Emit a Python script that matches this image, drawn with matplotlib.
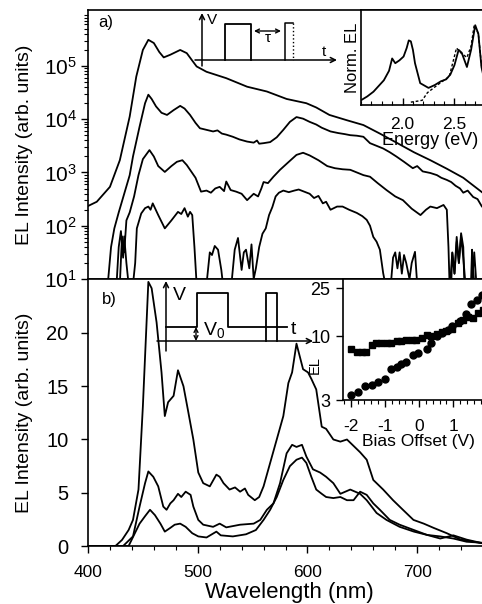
import matplotlib
matplotlib.use('Agg')
import matplotlib.pyplot as plt
import numpy as np
from matplotlib.ticker import MultipleLocator, LogLocator, NullFormatter, NullLocator

plt.rcParams['font.family'] = ['Liberation Sans', 'DejaVu Sans']
plt.rcParams['mathtext.fontset'] = 'custom'
plt.rcParams['mathtext.rm'] = 'Liberation Sans'
plt.rcParams['mathtext.it'] = 'Liberation Sans:italic'
plt.rcParams['mathtext.default'] = 'regular'
plt.rcParams['axes.unicode_minus'] = False

# ---- panel a) : log EL spectra (values stored as log10 of intensity)
wl_a1 = [399, 408, 420, 429, 438, 444, 450, 455, 460, 465, 469, 475, 484, 490, 495, 499, 508,
         526, 545, 563, 581, 599, 608, 620, 636, 651, 666, 682, 697, 712, 727, 742, 759, 770]
log_a1 = [2.36, 2.45, 2.73, 3.23, 4.05, 4.80, 5.30, 5.49, 5.43, 5.26, 5.16, 5.21, 5.30, 5.24, 5.10, 4.99, 4.89,
          4.77, 4.61, 4.52, 4.38, 4.30, 4.22, 4.08, 3.98, 3.89, 3.73, 3.55, 3.38, 3.23, 3.07, 2.90, 2.63, 2.45]

wl_a2 = [418, 421, 424, 428, 433, 438, 441, 447, 452, 455, 458, 462, 467, 472, 478, 484, 488, 493, 498,
         502, 508, 514, 518, 522, 526, 532, 538, 545, 551, 554, 556, 560, 566, 572, 578, 584, 590, 596, 602,
         608, 613, 621, 628, 634, 639, 645, 651, 657, 663, 669, 675, 681, 688, 696, 700, 705, 712, 718,
         722, 727, 731, 735, 739, 742, 746, 751, 755, 759, 770]
log_a2 = [0.9, 1.6, 1.95, 2.25, 2.6, 2.95, 3.30, 3.86, 4.30, 4.46, 4.38, 4.24, 4.12, 4.08, 4.17, 4.25, 4.20, 4.08, 3.93,
          3.83, 3.80, 3.77, 3.79, 3.73, 3.71, 3.67, 3.62, 3.58, 3.56, 3.60, 3.54, 3.55, 3.57, 3.66, 3.80, 3.95, 4.04, 4.01, 3.95,
          3.90, 3.84, 3.77, 3.74, 3.72, 3.70, 3.69, 3.67, 3.55, 3.50, 3.45, 3.38, 3.30, 3.20, 3.08, 3.12, 3.02, 2.99, 2.95,
          2.90, 2.86, 2.82, 2.75, 2.70, 2.62, 2.66, 2.54, 2.50, 2.36, 2.20]

wl_a3 = [429, 431, 433, 435, 438, 442, 446, 450, 456, 460, 464, 470, 476, 481, 486, 490, 494, 498, 503,
         508, 512, 516, 520, 524, 526, 530, 535, 540, 545, 551, 555, 558, 560, 564, 569, 575, 583, 590, 596,
         602, 610, 618, 625, 632, 639, 645, 651, 657, 664, 672, 680, 687, 695, 703, 708, 712, 718, 724, 727,
         728.5, 729.5, 731, 732, 734, 736, 738, 740, 742, 743, 749, 750, 751, 752, 770]
log_a3 = [0.9, 1.8, 1.5, 2.1, 2.25, 2.55, 2.95, 3.25, 3.42, 3.30, 3.12, 3.01, 3.12, 3.20, 3.23, 3.14, 3.02, 2.90, 2.64,
          2.66, 2.62, 2.70, 2.73, 2.65, 2.83, 2.67, 2.64, 2.60, 2.48, 2.60, 2.55, 2.70, 2.82, 2.80, 2.92, 3.05, 3.20, 3.33, 3.37,
          3.32, 3.23, 3.12, 3.08, 3.06, 3.05, 3.00, 2.95, 2.92, 2.80, 2.67, 2.55, 2.48, 2.32, 2.20, 2.30, 2.36, 2.33, 2.39, 2.30,
          1.6, 0.9, 0.9, 1.49, 1.1, 1.79, 1.3, 1.86, 1.6, 0.9, 0.9, 1.55, 1.2, 0.9, 0.9]

wl_a4 = [426, 428, 430, 432, 433, 435, 437, 441, 443, 444.5, 448.5, 452, 455, 457, 459, 464, 470, 476, 482, 485,
         488, 491, 493, 495, 497, 499, 508, 511, 513, 515.5, 518.5, 521.5, 523, 530.7, 533.7, 536.7, 540, 542,
         544, 547, 549, 551, 553, 556, 559, 562, 565, 568, 571, 574, 578, 583, 588, 592, 597, 602, 606, 610,
         614, 617, 621, 627, 632, 638, 645, 650, 654, 657, 660, 663, 666, 669, 671, 676, 678, 680, 682, 684,
         686, 688, 690, 693, 695, 698, 700, 730, 732, 734, 736, 738, 740, 742, 744, 750, 752, 754, 770]
log_a4 = [0.9, 1.6, 1.9, 1.4, 1.8, 1.3, 0.9, 0.9, 1.3, 1.95, 2.23, 2.33, 2.36, 2.30, 2.42, 2.20, 1.95, 2.10, 2.26, 2.22,
          2.33, 2.17, 2.26, 2.20, 1.6, 0.9, 0.9, 1.5, 1.45, 1.62, 1.55, 1.17, 0.9, 0.9, 1.55, 1.77, 1.17, 1.5,
          1.55, 1.2, 1.65, 1.0, 1.2, 1.6, 1.85, 1.95, 2.2, 2.35, 2.55, 2.62, 2.66, 2.63, 2.66, 2.68, 2.64, 2.60, 2.52, 2.56,
          2.42, 2.45, 2.30, 2.36, 2.36, 2.30, 2.24, 2.18, 2.11, 2.0, 1.79, 1.7, 1.55, 1.11, 0.9, 0.9, 1.4, 1.5, 1.2, 1.5,
          1.1, 1.45, 1.3, 1.0, 1.3, 1.51, 0.9, 0.9, 1.5, 1.1, 1.7, 1.3, 1.8, 1.4, 0.9, 0.9, 1.5, 0.9, 0.9]

# ---- panel b) : linear EL spectra
wl_b1 = [400, 425, 431, 437, 441, 446, 450, 455, 458, 462.5, 467, 470, 473, 478, 482, 487, 491, 496, 500.5,
         505, 511, 517, 520, 523.5, 529, 534, 538.6, 543, 546, 552, 556, 560, 566, 572, 578, 582.6, 586, 590,
         593, 596, 600.5, 603.5, 608, 613, 617, 623.6, 630, 636, 642, 648, 654, 660, 669, 678, 687, 696.6,
         706, 715, 727, 739, 751, 760]
b1 = [0, 0, 0.57, 1.5, 2.45, 5.3, 13.1, 24.8, 24.2, 21.0, 16.3, 12.2, 13.5, 14.1, 16.5, 15.0, 12.8, 10.0, 6.9,
      5.9, 5.6, 6.7, 6.5, 5.9, 5.3, 5.5, 5.1, 5.4, 4.8, 4.3, 4.6, 5.6, 7.8, 10.0, 12.2, 15.3, 16.3, 19.0,
      17.8, 16.6, 16.3, 15.7, 14.7, 11.2, 11.0, 10.0, 9.8, 10.0, 9.4, 8.8, 8.1, 6.2, 5.3, 4.3, 3.4, 2.45,
      2.1, 1.7, 1.2, 0.63, 0.4, 0.25]

wl_b2 = [400, 432, 441, 447, 452, 455, 459.5, 464, 468.6, 471.6, 475, 478, 482, 485, 489, 493.5, 496, 500.5,
         505, 514, 520, 526, 538.6, 551, 557, 563, 569, 575, 581, 586, 590, 595, 599, 605, 611.5, 617, 623.6,
         630, 639, 648, 654, 663, 672, 684, 697, 709, 721, 733, 745, 760]
b2 = [0, 0, 0.9, 3.7, 5.9, 7.0, 6.5, 5.6, 3.7, 3.4, 4.0, 4.3, 4.9, 4.6, 5.1, 4.8, 3.7, 2.45,
      2.0, 1.8, 2.1, 1.75, 2.0, 2.1, 2.45, 3.4, 4.0, 5.9, 8.7, 9.5, 9.3, 9.5, 8.4, 7.2, 6.9, 6.5, 5.9,
      4.9, 5.3, 4.9, 4.3, 3.1, 2.45, 1.8, 1.35, 1.04, 0.9, 0.7, 0.4, 0.3]

wl_b3 = [400, 437, 447, 452, 456.5, 461, 466, 470, 475, 479, 484, 489, 495, 500.5, 508, 517, 521, 532, 544,
         553, 560, 566, 572, 578, 584, 590, 595, 599, 603.5, 608, 613, 617, 623.6, 630, 636, 642, 648, 654,
         660, 666, 675, 684, 697, 709, 721, 733, 745, 760]
b3 = [0, 0, 2.1, 2.8, 3.4, 2.9, 2.1, 1.35, 1.7, 2.0, 2.1, 1.8, 1.2, 0.9, 0.8, 1.35, 1.0, 0.9, 1.1,
      1.5, 2.45, 3.4, 4.6, 6.2, 7.5, 8.1, 8.3, 7.8, 6.5, 5.3, 4.9, 4.6, 4.5, 4.6, 4.3, 4.3, 5.1, 4.8,
      4.0, 3.4, 2.45, 2.0, 1.5, 1.04, 0.7, 1.0, 0.6, 0.25]

# ---- inset a) : normalised EL vs energy
e_solid = [1.60, 1.66, 1.72, 1.77, 1.82, 1.87, 1.90, 1.93, 1.97, 2.01, 2.04, 2.06, 2.08, 2.10, 2.12, 2.17, 2.25,
           2.31, 2.37, 2.42, 2.46, 2.50, 2.54, 2.57, 2.62, 2.66, 2.70, 2.73, 2.76, 2.80, 2.85, 2.90]
n_solid = [0.05, 0.09, 0.14, 0.20, 0.26, 0.36, 0.49, 0.44, 0.47, 0.51, 0.60, 0.68, 0.67, 0.58, 0.44, 0.23, 0.18,
           0.21, 0.25, 0.27, 0.32, 0.42, 0.58, 0.55, 0.40, 0.58, 0.84, 0.75, 0.40, 0.20, 0.10, 0.06]
e_dash = [2.08, 2.14, 2.19, 2.24, 2.30, 2.36, 2.45, 2.52, 2.56, 2.62, 2.66, 2.69, 2.73, 2.76, 2.80, 2.85, 2.90]
n_dash = [0.03, 0.04, 0.05, 0.13, 0.18, 0.23, 0.30, 0.60, 0.55, 0.50, 0.62, 0.84, 0.75, 0.42, 0.22, 0.11, 0.07]

# ---- inset b) : EL vs bias offset
bias_sq = [-1.98, -1.83, -1.68, -1.56, -1.39, -1.25, -1.10, -0.95, -0.81, -0.66, -0.52, -0.37, -0.22, -0.08,
           0.07, 0.22, 0.36, 0.51, 0.66, 0.80, 0.95, 1.14, 1.29, 1.43, 1.58, 1.72, 1.87]
el_sq = [7.9, 7.4, 7.4, 7.4, 8.5, 8.8, 8.9, 8.9, 8.9, 9.1, 9.2, 9.3, 9.3, 9.4,
         9.7, 10.3, 10.1, 10.4, 10.9, 11.0, 11.6, 12.8, 13.6, 14.5, 14.3, 15.7, 16.5]
bias_ci = [-1.98, -1.78, -1.59, -1.39, -1.20, -1.00, -0.81, -0.66, -0.52, -0.37, -0.17, -0.03, 0.22, 0.36,
           0.51, 0.66, 0.85, 0.97, 1.19, 1.37, 1.53, 1.68, 1.85]
el_ci = [3.3, 3.5, 3.9, 4.0, 4.2, 4.5, 5.4, 5.65, 5.95, 6.2, 7.1, 7.3, 7.9, 8.8,
         10.0, 10.6, 11.4, 12.2, 13.4, 15.4, 18.5, 20.0, 22.0]

LW = 1.3
fig = plt.figure(figsize=(4.82, 6.04), dpi=100)

def pos(l, t, r, b):
    # pixel box -> figure fraction
    return [l / 482, 1 - b / 604, (r - l) / 482, (b - t) / 604]

# panel a
ax1 = fig.add_axes(pos(88, 10, 494, 279))
for w, v in [(wl_a1, log_a1), (wl_a2, log_a2), (wl_a3, log_a3), (wl_a4, log_a4)]:
    ax1.plot(w, 10 ** np.array(v), color='k', lw=LW)
ax1.set_yscale('log')
ax1.set_xlim(400, 770)
ax1.set_ylim(10, 10 ** 6.05)
ax1.set_yticks([1e1, 1e2, 1e3, 1e4, 1e5])
ax1.yaxis.set_minor_locator(LogLocator(base=10, subs=np.arange(2, 10)))
ax1.yaxis.set_minor_formatter(NullFormatter())
ax1.tick_params(axis='y', which='major', direction='out', length=5, width=1, labelsize=15, pad=3)
ax1.tick_params(axis='y', which='minor', direction='out', length=3, width=0.8)
ax1.tick_params(axis='x', which='both', bottom=False, labelbottom=False)
ax1.set_ylabel('EL Intensity (arb. units)', fontsize=14)
ax1.yaxis.set_label_coords(-0.135, 0.5)
ax1.text(0.025, 0.955, 'a)', transform=ax1.transAxes, fontsize=12, va='center')
for s in ax1.spines.values():
    s.set_linewidth(1.2)

# panel b
ax2 = fig.add_axes(pos(88, 279, 494, 546))
for w, v in [(wl_b1, b1), (wl_b2, b2), (wl_b3, b3)]:
    ax2.plot(w, v, color='k', lw=LW)
ax2.set_xlim(400, 770)
ax2.set_ylim(0, 25.07)
ax2.set_yticks([0, 5, 10, 15, 20])
ax2.set_xticks([400, 500, 600, 700])
ax2.xaxis.set_minor_locator(MultipleLocator(20))
ax2.tick_params(axis='y', which='major', direction='out', length=5, width=1, labelsize=14.5, pad=9)
ax2.tick_params(axis='x', which='major', direction='out', length=5, width=1, labelsize=12.5, pad=9)
ax2.tick_params(axis='x', which='minor', direction='out', length=3, width=0.8)
ax2.set_ylabel('EL Intensity (arb. units)', fontsize=14)
ax2.yaxis.set_label_coords(-0.135, 0.5)
ax2.set_xlabel('Wavelength (nm)', fontsize=16)
ax2.xaxis.set_label_coords(0.495, -0.135)
ax2.text(0.035, 0.925, 'b)', transform=ax2.transAxes, fontsize=12, va='center')
for s in ax2.spines.values():
    s.set_linewidth(1.2)

# inset a
ins1 = fig.add_axes(pos(361, 10, 496, 105))
ins1.plot(e_solid, n_solid, color='k', lw=1.3)
ins1.plot(e_dash, n_dash, color='k', lw=1.0, ls=(0, (2, 1.5)))
ins1.set_xlim(1.6, 2.9)
ins1.set_ylim(0, 1)
ins1.set_xticks([2.0, 2.5])
ins1.set_xticklabels(['2.0', '2.5'])
ins1.xaxis.set_minor_locator(MultipleLocator(0.1))
ins1.yaxis.set_major_locator(NullLocator())
ins1.tick_params(axis='x', which='major', direction='in', length=5, width=1, labelsize=12.5, pad=9)
ins1.tick_params(axis='x', which='minor', direction='in', length=3, width=0.8)
ins1.set_xlabel('Energy (eV)', fontsize=13)
ins1.xaxis.set_label_coords(0.51, -0.285)
ins1.set_ylabel('Norm. EL', fontsize=12, labelpad=1)
for s in ins1.spines.values():
    s.set_linewidth(1.2)

# inset b
ins2 = fig.add_axes(pos(343, 279, 493, 400))
ins2.plot(bias_sq, el_sq, 's', color='k', ms=4.5)
ins2.plot(bias_ci, el_ci, 'o', color='k', ms=5)
ins2.set_yscale('log')
ins2.set_xlim(-2.225, 2.16)
ins2.set_ylim(3, 29.7)
ins2.set_yticks([3, 10, 25])
ins2.set_yticklabels(['3', '10', '25'])
ins2.yaxis.set_minor_locator(NullLocator())
ins2.set_xticks([-2, -1, 0, 1])
ins2.xaxis.set_minor_locator(MultipleLocator(0.2))
ins2.tick_params(axis='y', which='major', direction='out', length=5, width=1, labelsize=13, pad=4)
ins2.tick_params(axis='x', which='major', direction='out', length=5, width=1, labelsize=12.5, pad=9)
ins2.tick_params(axis='x', which='minor', direction='out', length=3, width=0.8)
ins2.set_xlabel('Bias Offset (V)', fontsize=12.5, labelpad=0)
ins2.set_ylabel('EL', fontsize=10.5)
ins2.yaxis.set_label_coords(-0.14, 0.29)
for s in ins2.spines.values():
    s.set_linewidth(1.2)

# pulse schematics drawn in a pixel overlay
ov = fig.add_axes([0, 0, 1, 1], facecolor='none')
ov.set_xlim(0, 482)
ov.set_ylim(604, 0)
ov.axis('off')
arr = dict(arrowstyle='->', lw=1.1, color='k', mutation_scale=9, shrinkA=0, shrinkB=0)
darr = dict(arrowstyle='<->', lw=1.0, color='k', mutation_scale=7, shrinkA=0, shrinkB=0)
# a)
ov.annotate('', xy=(202, 13), xytext=(202, 66), arrowprops=arr)
ov.annotate('', xy=(337, 60), xytext=(195, 60), arrowprops=arr)
ov.plot([225, 225, 251, 251], [60, 24, 24, 60], color='k', lw=1.3)
ov.annotate('', xy=(254, 31), xytext=(281, 31), arrowprops=darr)
ov.plot([285, 285, 293], [60, 23, 23], color='k', lw=1.1)
ov.plot([293, 293], [23, 60], color='k', lw=1.0, ls=':')
ov.text(207, 20, 'V', fontsize=11, va='center')
ov.text(268, 38, '\u03c4', fontsize=11, va='center', ha='center')
ov.text(322, 52, 't', fontsize=11, va='center')
# b)
ov.annotate('', xy=(166, 281), xytext=(166, 351), arrowprops=arr)
ov.annotate('', xy=(313, 341), xytext=(157, 341), arrowprops=arr)
ov.plot([166, 197, 197, 228, 228, 287], [327, 327, 293, 293, 327, 327], color='k', lw=1.3)
ov.plot([266, 266, 277, 277], [341, 293, 293, 341], color='k', lw=1.3)
ov.annotate('', xy=(196, 327), xytext=(196, 341), arrowprops=darr)
ov.text(173, 295, 'V', fontsize=14, va='center')
ov.text(203, 330, 'V$_0$', fontsize=14, va='center')
ov.text(291, 330, 't', fontsize=14, va='center')

fig.savefig('out.png', dpi=100)
